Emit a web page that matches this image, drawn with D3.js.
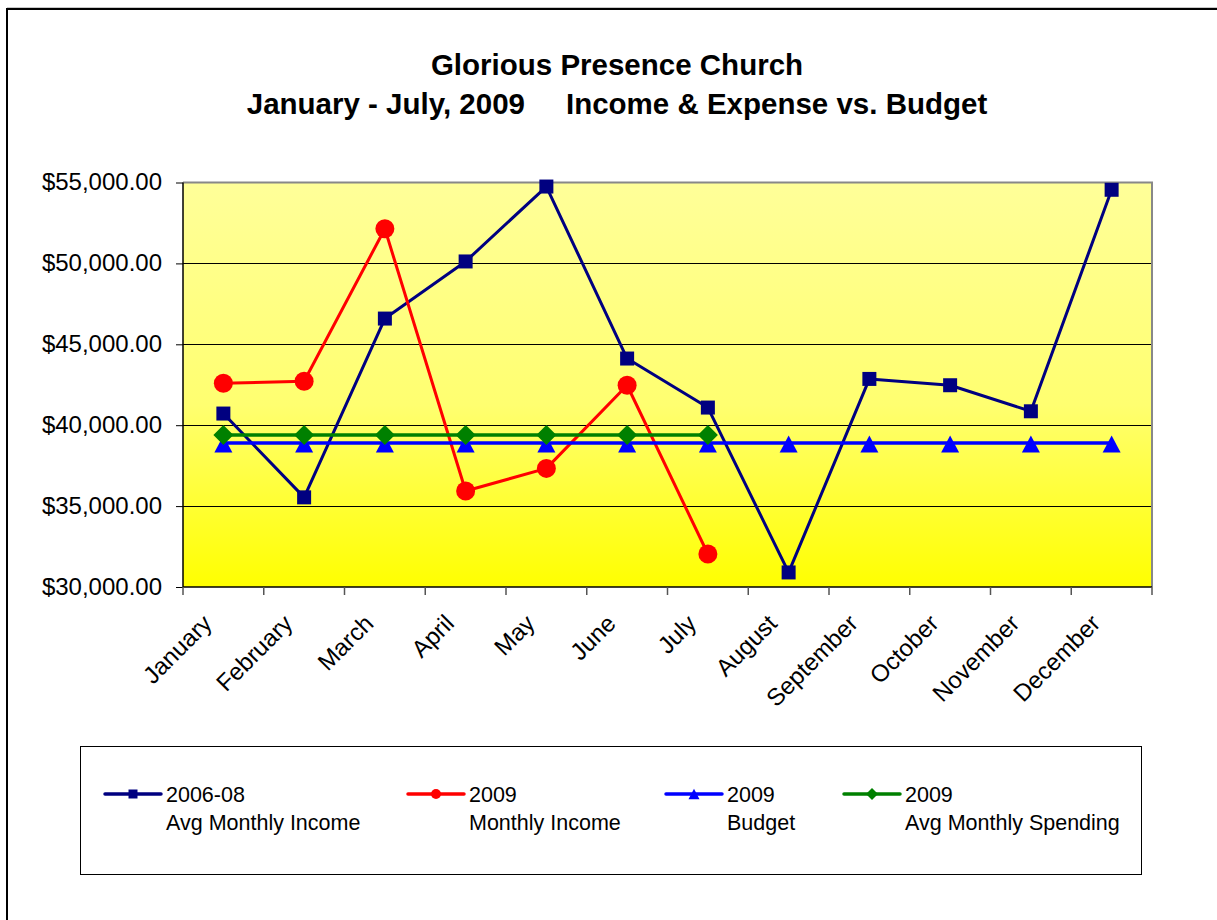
<!DOCTYPE html>
<html>
<head>
<meta charset="utf-8">
<script src="https://cdn.jsdelivr.net/npm/d3@7"></script>
<style>
  body { margin: 0; background: #fff; }
  text { font-family: "Liberation Sans", Arial, sans-serif; fill: #000; }
</style>
</head>
<body>
<div id="chart"></div>
<script>
const months = ["January", "February", "March", "April", "May", "June", "July",
    "August", "September", "October", "November", "December"];
const avgIncome = [40720, 35540, 46590, 50120, 54750, 44120, 41090, 30900, 42860, 42470, 40860, 54550];
const income2009 = [42590, 42720, 52140, 35930, 37330, 42470, 32040];
const budget2009 = [38900, 38900, 38900, 38900, 38900, 38900, 38900, 38900, 38900, 38900, 38900, 38900];
const spending2009 = [39400, 39400, 39400, 39400, 39400, 39400, 39400];
const yTicks = [30000, 35000, 40000, 45000, 50000, 55000];
const legendTop = ["2006-08", "2009", "2009", "2009"];
const legendBottom = ["Avg Monthly Income", "Monthly Income", "Budget", "Avg Monthly Spending"];

function init() {
    let width = 1217, height = 920;
    let plot = { left: 183, right: 1152, top: 182.5, bottom: 587 };

    let svg = d3.select("#chart")
        .append("svg")
        .attr("width", width)
        .attr("height", height);

    // outer chart border (runs off the right and bottom edge)
    svg.append("line").attr("x1", 7).attr("x2", width).attr("y1", 7.5).attr("y2", 7.5)
        .style("stroke", "#c8c8c8").style("stroke-width", 1);
    svg.append("rect")
        .attr("x", 7).attr("y", 9).attr("width", width + 20).attr("height", height + 20)
        .style("fill", "none").style("stroke", "#000").style("stroke-width", 2);

    // title
    let title = svg.append("text")
        .attr("text-anchor", "middle")
        .style("font-weight", "bold")
        .style("font-size", "29.5px")
        .style("white-space", "pre");
    title.append("tspan").attr("x", 617).attr("y", 75).text("Glorious Presence Church");
    title.append("tspan").attr("x", 617).attr("y", 114).text("January - July, 2009     Income & Expense vs. Budget");

    let x = d3.scaleBand().domain(months).range([plot.left, plot.right]);
    let cx = function (i) { return x(months[i]) + x.bandwidth() / 2; };
    let y = d3.scaleLinear().domain([30000, 55000]).range([plot.bottom, plot.top]);

    // plot background gradient
    let grad = svg.append("defs").append("linearGradient")
        .attr("id", "bg").attr("x1", 0).attr("x2", 0).attr("y1", 0).attr("y2", 1);
    grad.append("stop").attr("offset", "0%").attr("stop-color", "#ffff99");
    grad.append("stop").attr("offset", "55%").attr("stop-color", "#ffff70");
    grad.append("stop").attr("offset", "100%").attr("stop-color", "#ffff00");

    svg.append("rect")
        .attr("x", plot.left).attr("y", plot.top)
        .attr("width", plot.right - plot.left).attr("height", plot.bottom - plot.top)
        .style("fill", "url(#bg)");

    // gridlines
    svg.append("g")
        .selectAll("line")
        .data(yTicks.slice(1, -1))
        .join("line")
        .attr("x1", plot.left).attr("x2", plot.right)
        .attr("y1", function (d) { return Math.round(y(d)) + 0.5; })
        .attr("y2", function (d) { return Math.round(y(d)) + 0.5; })
        .style("stroke", "#000").style("stroke-width", 1);

    // plot border top + right (grey)
    svg.append("path")
        .attr("d", "M" + plot.left + "," + plot.top + "H" + plot.right + "V" + plot.bottom)
        .style("fill", "none").style("stroke", "#888").style("stroke-width", 2);

    // y axis
    let yAxis = svg.append("g")
        .attr("transform", "translate(" + plot.left + ",0)")
        .call(d3.axisLeft(y).tickValues(yTicks).tickSize(7).tickPadding(14)
            .tickFormat(d3.format("$,.2f")));
    yAxis.selectAll("text").style("font-size", "24px").attr("dy", "0.3em");
    yAxis.selectAll("line, path").style("stroke", "#000");
    yAxis.select(".domain").attr("d", "M0," + plot.top + "V" + plot.bottom).style("stroke-width", 1.5);

    // x axis: ticks on band boundaries
    let xAxis = svg.append("g").attr("transform", "translate(0," + plot.bottom + ")");
    xAxis.append("line").attr("x1", plot.left).attr("x2", plot.right)
        .style("stroke", "#000").style("stroke-width", 1.5);
    xAxis.selectAll(".tick")
        .data(months.map(function (m) { return x(m); }).concat([plot.right]))
        .join("line")
        .attr("x1", function (d) { return d; }).attr("x2", function (d) { return d; })
        .attr("y1", 0).attr("y2", 8)
        .style("stroke", "#555").style("stroke-width", 1.5);
    xAxis.selectAll(".lab")
        .data(months)
        .join("text")
        .attr("text-anchor", "end")
        .style("font-size", "24px")
        .attr("transform", function (d, i) {
            return "translate(" + (cx(i) - 16) + ",32) rotate(-45)";
        })
        .attr("dy", "0.35em")
        .text(function (d) { return d; });

    // series
    let series = [
        { values: avgIncome, color: "#000080", width: 3, marker: "square" },
        { values: income2009, color: "#ff0000", width: 3, marker: "circle" },
        { values: budget2009, color: "#0000ff", width: 3.5, marker: "triangle" },
        { values: spending2009, color: "#008000", width: 3.5, marker: "diamond" }
    ];

    let markerPath = function (type, s) {
        if (type === "square") return d3.symbol(d3.symbolSquare, s * s)();
        if (type === "circle") return d3.symbol(d3.symbolCircle, Math.PI * s * s / 4)();
        if (type === "triangle") {
            let h = s * 0.95, w = s;
            return "M0," + (-h / 2) + "L" + (w / 2) + "," + (h / 2) + "L" + (-w / 2) + "," + (h / 2) + "Z";
        }
        return "M0," + (-s / 2) + "L" + (s / 2) + ",0L0," + (s / 2) + "L" + (-s / 2) + ",0Z";
    };
    let markerSize = { square: 14, circle: 19, triangle: 18, diamond: 20 };

    let line = d3.line()
        .x(function (d, i) { return cx(i); })
        .y(function (d) { return y(d); });

    series.forEach(function (s) {
        let g = svg.append("g");
        g.append("path")
            .datum(s.values)
            .attr("d", line)
            .style("fill", "none")
            .style("stroke", s.color)
            .style("stroke-width", s.width)
            .style("stroke-linejoin", "round");
        g.selectAll("path.m")
            .data(s.values)
            .join("path")
            .attr("class", "m")
            .attr("d", markerPath(s.marker, markerSize[s.marker]))
            .attr("transform", function (d, i) {
                let dy = s.marker === "triangle" ? 1 : 0;
                return "translate(" + cx(i) + "," + (y(d) + dy) + ")";
            })
            .style("fill", s.color);
    });

    // legend
    svg.append("rect")
        .attr("x", 80.5).attr("y", 746.5).attr("width", 1061).attr("height", 128)
        .style("fill", "#fff").style("stroke", "#000").style("stroke-width", 1);

    let legendX = [105, 408, 666, 844];
    let legendSize = { square: 9, circle: 10, triangle: 11, diamond: 12 };
    series.forEach(function (s, i) {
        let lx = legendX[i];
        svg.append("line")
            .attr("x1", lx).attr("x2", lx + 56).attr("y1", 794).attr("y2", 794)
            .style("stroke", s.color).style("stroke-width", 3.5).style("stroke-linecap", "round");
        svg.append("path")
            .attr("d", markerPath(s.marker, legendSize[s.marker]))
            .attr("transform", "translate(" + (lx + 28) + ",794)")
            .style("fill", s.color);
        svg.append("text").attr("x", lx + 61).attr("y", 802)
            .style("font-size", "21.5px").text(legendTop[i]);
        svg.append("text").attr("x", lx + 61).attr("y", 830)
            .style("font-size", "21.5px").text(legendBottom[i]);
    });
}

window.addEventListener('load', init);
</script>
</body>
</html>
